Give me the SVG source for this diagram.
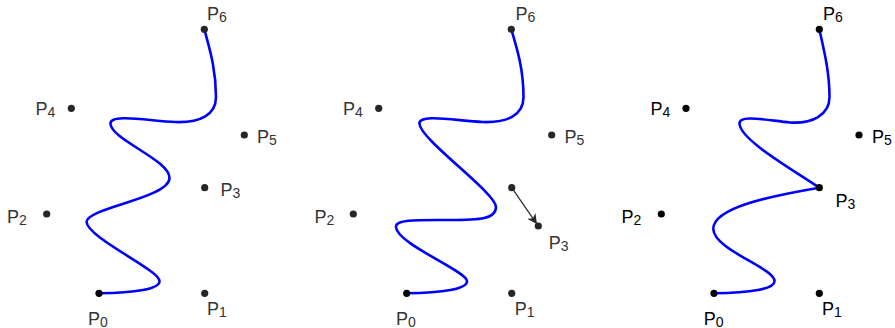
<svg xmlns="http://www.w3.org/2000/svg" width="895" height="328" viewBox="0 0 895 328">
<style>
.lbl{font-family:"Liberation Sans",Arial,sans-serif;font-size:18px;fill:#333}
.sub{font-size:14px}
.dot{fill:#262626}
.p0{fill:#000}
.k .lbl{fill:#000}
.k .dot{fill:#000}
.curve{fill:none;stroke:#0000ff;stroke-width:2.6;stroke-linecap:round;stroke-linejoin:round}
.arrow{fill:none;stroke:#262626;stroke-width:1.2}
</style>
<defs>
<marker id="ah" viewBox="0 0 10 10" refX="9" refY="5" markerWidth="10" markerHeight="10" markerUnits="userSpaceOnUse" orient="auto">
<path d="M0,0 L10,5 L0,10 L3,5 Z" fill="#262626"/>
</marker>
</defs>
<rect width="895" height="328" fill="#fff"/>
<g id="connectors">
<path class="curve" d="M99,293.3 C135,293 160,289 159.5,281 C159.5,270 88,238 86.5,222 C86.5,208 169.5,198 169.5,178 C169.5,160 112,140 110.5,124 C109,113 150,121 175,122 C200,123 216,115 216,97 C216,70 210,50 204.3,29.3"/>
<path class="curve" d="M406.7,293.3 C442.5,293 467.5,289 467,281 C467,271 397,244 396,227 C395,219 420,220 450,220 C480,220 496,219 496,207 C496,193 421,140 419.5,124 C418,113 457.5,121 482.5,122 C507.5,123 523.5,115 523.5,97 C523.5,70 517.5,50 511.3,29.3"/>
<path class="curve" d="M714,293.3 C750,293 775,289 774.5,281 C774.5,268 714,250 713.3,229 C713,208 770,196 819.3,187.7 C790,168 741,140 739.5,124 C738.5,114 765,120 790,122.5 C812,124 829.5,115 829.5,97 C829.5,72 824,50 819.3,29.3"/>
<path class="arrow" d="M511.7,187.7 L536.4,223.3" marker-end="url(#ah)"/>
</g>
<g id="panel1">
<g id="a-P0"><circle class="dot p0" cx="99" cy="293.3" r="3.6"/><text class="lbl" x="88" y="325">P<tspan class="sub" dy="2">0</tspan></text></g>
<g id="a-P1"><circle class="dot" cx="204.7" cy="293.3" r="3.6"/><text class="lbl" x="207" y="315">P<tspan class="sub" dy="2">1</tspan></text></g>
<g id="a-P2"><circle class="dot" cx="46.7" cy="214" r="3.6"/><text class="lbl" x="7" y="222.7">P<tspan class="sub" dy="2">2</tspan></text></g>
<g id="a-P3"><circle class="dot" cx="204.7" cy="187.7" r="3.6"/><text class="lbl" x="220.4" y="196">P<tspan class="sub" dy="2">3</tspan></text></g>
<g id="a-P4"><circle class="dot" cx="71.3" cy="108.3" r="3.6"/><text class="lbl" x="35.4" y="115">P<tspan class="sub" dy="2">4</tspan></text></g>
<g id="a-P5"><circle class="dot" cx="244.3" cy="135" r="3.6"/><text class="lbl" x="257" y="142.7">P<tspan class="sub" dy="2">5</tspan></text></g>
<g id="a-P6"><circle class="dot" cx="204.3" cy="29.3" r="3.6"/><text class="lbl" x="207" y="20">P<tspan class="sub" dy="2">6</tspan></text></g>
</g>
<g id="panel2">
<g id="b-P0"><circle class="dot p0" cx="406.7" cy="293.3" r="3.6"/><text class="lbl" x="396" y="325">P<tspan class="sub" dy="2">0</tspan></text></g>
<g id="b-P1"><circle class="dot" cx="511.7" cy="293.3" r="3.6"/><text class="lbl" x="514.7" y="315">P<tspan class="sub" dy="2">1</tspan></text></g>
<g id="b-P2"><circle class="dot" cx="353.3" cy="214" r="3.6"/><text class="lbl" x="314.4" y="222.7">P<tspan class="sub" dy="2">2</tspan></text></g>
<g id="b-P3old"><circle class="dot" cx="511.7" cy="187.7" r="3.6"/></g>
<g id="b-P3"><circle class="dot" cx="538.3" cy="226" r="3.6"/><text class="lbl" x="548.7" y="249.3">P<tspan class="sub" dy="2">3</tspan></text></g>
<g id="b-P4"><circle class="dot" cx="378.7" cy="108.3" r="3.6"/><text class="lbl" x="343" y="115">P<tspan class="sub" dy="2">4</tspan></text></g>
<g id="b-P5"><circle class="dot" cx="551.7" cy="135" r="3.6"/><text class="lbl" x="564.4" y="142.7">P<tspan class="sub" dy="2">5</tspan></text></g>
<g id="b-P6"><circle class="dot" cx="511.3" cy="29.3" r="3.6"/><text class="lbl" x="515.4" y="20">P<tspan class="sub" dy="2">6</tspan></text></g>
</g>
<g id="panel3" class="k">
<g id="c-P0"><circle class="dot" cx="714" cy="293.3" r="3.6"/><text class="lbl" x="703.7" y="325">P<tspan class="sub" dy="2">0</tspan></text></g>
<g id="c-P1"><circle class="dot" cx="819.3" cy="293.3" r="3.6"/><text class="lbl" x="822" y="315">P<tspan class="sub" dy="2">1</tspan></text></g>
<g id="c-P2"><circle class="dot" cx="661.3" cy="214" r="3.6"/><text class="lbl" x="621.4" y="222.7">P<tspan class="sub" dy="2">2</tspan></text></g>
<g id="c-P3"><circle class="dot" cx="819.3" cy="187.7" r="3.6"/><text class="lbl" x="835.4" y="207.3">P<tspan class="sub" dy="2">3</tspan></text></g>
<g id="c-P4"><circle class="dot" cx="686" cy="108.3" r="3.6"/><text class="lbl" x="650.4" y="115">P<tspan class="sub" dy="2">4</tspan></text></g>
<g id="c-P5"><circle class="dot" cx="859" cy="135" r="3.6"/><text class="lbl" x="872" y="142.7">P<tspan class="sub" dy="2">5</tspan></text></g>
<g id="c-P6"><circle class="dot" cx="819.3" cy="29.3" r="3.6"/><text class="lbl" x="823" y="20">P<tspan class="sub" dy="2">6</tspan></text></g>
</g>
</svg>
